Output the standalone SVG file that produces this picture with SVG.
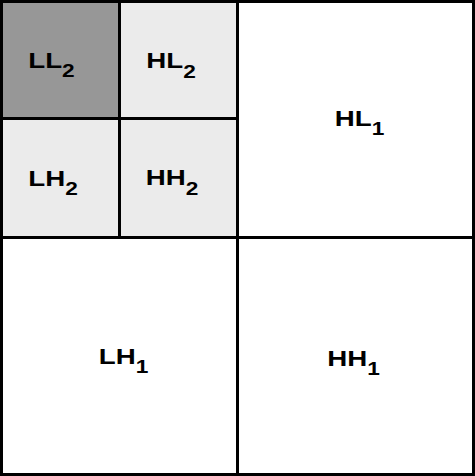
<svg xmlns="http://www.w3.org/2000/svg" width="475" height="476" viewBox="0 0 475 476">
  <style>
    .lbl { font-family: "Liberation Sans", Arial, sans-serif; font-weight: bold; font-size: 22px; fill: #000; text-anchor: middle; }
    .sub { font-size: 18px; }
    .grid line, .grid rect { stroke: #000; stroke-width: 3; fill: none; }
  </style>
  <rect x="0" y="0" width="475" height="476" fill="#ffffff"/>
  <g id="LL2">
    <rect x="0" y="0" width="119.5" height="118.5" fill="#979797"/>
    <g transform="translate(51.5,67.5) scale(1.26,1)"><text class="lbl">LL<tspan class="sub" dy="9.5">2</tspan></text></g>
  </g>
  <g id="HL2">
    <rect x="119.5" y="0" width="118" height="118.5" fill="#ebebeb"/>
    <g transform="translate(171,68) scale(1.26,1)"><text class="lbl">HL<tspan class="sub" dy="9.5">2</tspan></text></g>
  </g>
  <g id="LH2">
    <rect x="0" y="118.5" width="119.5" height="119" fill="#ebebeb"/>
    <g transform="translate(53,185.5) scale(1.26,1)"><text class="lbl">LH<tspan class="sub" dy="9.5">2</tspan></text></g>
  </g>
  <g id="HH2">
    <rect x="119.5" y="118.5" width="118" height="119" fill="#ebebeb"/>
    <g transform="translate(172,185) scale(1.26,1)"><text class="lbl">HH<tspan class="sub" dy="9.5">2</tspan></text></g>
  </g>
  <g id="HL1">
    <rect x="237.5" y="0" width="237.5" height="237.5" fill="#ffffff"/>
    <g transform="translate(359.5,126) scale(1.26,1)"><text class="lbl">HL<tspan class="sub" dy="9">1</tspan></text></g>
  </g>
  <g id="LH1">
    <rect x="0" y="237.5" width="237.5" height="238.5" fill="#ffffff"/>
    <g transform="translate(123.5,363.5) scale(1.26,1)"><text class="lbl">LH<tspan class="sub" dy="9">1</tspan></text></g>
  </g>
  <g id="HH1">
    <rect x="237.5" y="237.5" width="237.5" height="238.5" fill="#ffffff"/>
    <g transform="translate(353.5,366) scale(1.26,1)"><text class="lbl">HH<tspan class="sub" dy="9">1</tspan></text></g>
  </g>
  <g id="connectors" class="grid">
    <rect x="1.5" y="1.5" width="472" height="473"/>
    <line x1="237.5" y1="0" x2="237.5" y2="476"/>
    <line x1="0" y1="237.5" x2="475" y2="237.5"/>
    <line x1="119.5" y1="0" x2="119.5" y2="237.5"/>
    <line x1="0" y1="118.5" x2="237.5" y2="118.5"/>
  </g>
</svg>
